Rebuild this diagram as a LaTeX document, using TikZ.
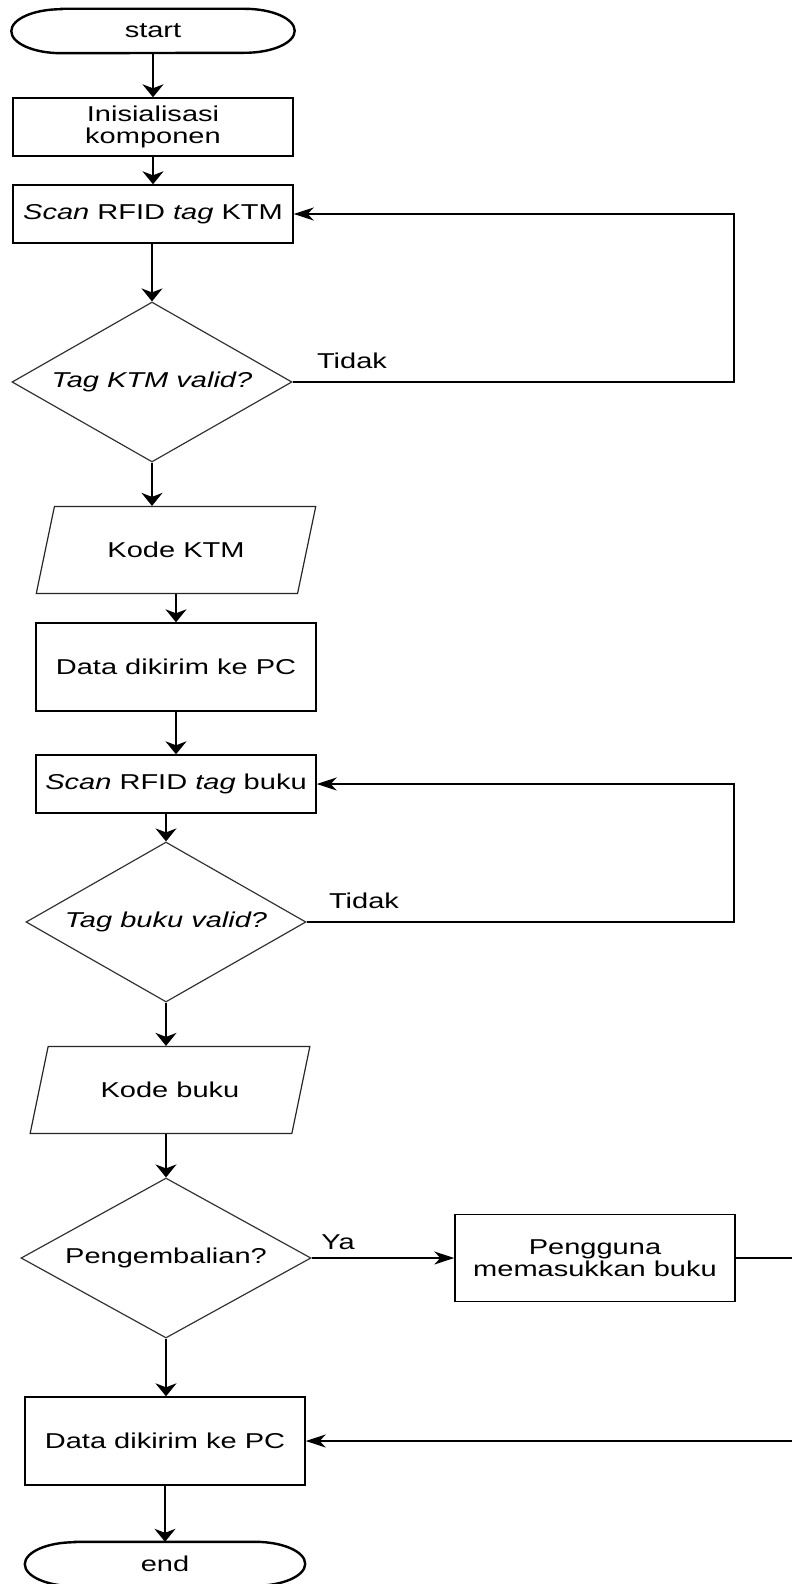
\documentclass[tikz,border=0pt]{standalone}
\usepackage{fontspec}
\setmainfont[FakeStretch=1.35]{Liberation Sans}
\usetikzlibrary{shapes.geometric,arrows.meta}

\tikzset{
    proses/.style={draw, line width=1.4pt, rectangle, minimum width=280pt, inner sep=0pt, align=center},
    keputusan/.style={draw=black!80, line width=1.2pt, diamond, aspect=1.75, minimum width=280pt, minimum height=160pt, inner sep=0pt},
    dataio/.style={draw=black!85, line width=1.2pt, trapezium, trapezium left angle=57, trapezium right angle=123, trapezium stretches=true, minimum width=280pt, minimum height=87pt, inner sep=0pt},
    terminal/.style={rectangle, minimum width=280pt, minimum height=44pt, inner sep=0pt},
    garis/.style={line width=1.5pt},
    panah/.style={garis, -{Stealth[length=13pt,width=21pt,inset=4pt]}},
    panahh/.style={garis, -{Stealth[length=20pt,width=13pt,inset=6pt]}},
    ket/.style={inner sep=0pt}
}

\begin{document}
\begin{tikzpicture}[x=1pt, y=-1pt, font=\fontsize{21.5}{22}\selectfont]

    \useasboundingbox (0,0) rectangle (792,1584);

    % Mulai dan akhir
    \node[terminal, minimum width=283pt] (start) at (153,31) {start};
    \node[terminal] (end) at (165,1564) {end};
    \foreach \t in {start,end}
        \draw[line width=2.4pt] ([xshift=50pt]\t.north west) -- ([xshift=-50pt]\t.north east)
            arc[start angle=90, end angle=-90, x radius=50pt, y radius=22pt]
            -- ([xshift=50pt]\t.south west)
            arc[start angle=270, end angle=90, x radius=50pt, y radius=22pt] -- cycle;

    % Bagian KTM
    \node[proses, minimum height=58pt] (init) at (153,127) {Inisialisasi\\komponen};
    \node[proses, minimum height=58pt] (scanktm) at (153,214) {\textit{Scan} RFID \textit{tag} KTM};
    \node[keputusan] (cekktm) at (152,382) {\textit{Tag KTM valid?}};
    \node[dataio] (kodektm) at (176,550) {Kode KTM};
    \node[proses, minimum height=88pt] (kirimktm) at (176,667) {Data dikirim ke PC};

    % Bagian buku
    \node[proses, minimum height=58pt] (scanbuku) at (176,784) {\textit{Scan} RFID \textit{tag} buku};
    \node[keputusan] (cekbuku) at (166,922) {\textit{Tag buku valid?}};
    \node[dataio] (kodebuku) at (170,1090) {Kode buku};
    \node[keputusan, minimum width=290pt] (kembali) at (166,1258) {Pengembalian?};
    \node[proses, minimum height=87pt] (pengguna) at (595,1258) {Pengguna\\memasukkan buku};
    \node[proses, minimum height=88pt] (kirimbuku) at (165,1441) {Data dikirim ke PC};

    % Titik di luar gambar
    \coordinate (luar1) at (806,1258);
    \coordinate (luar2) at (806,1441);

    % Alur utama
    \draw[panah] (start) -- (init);
    \draw[panah] (init) -- (scanktm);
    \draw[panah] (scanktm.south -| cekktm.north) -- (cekktm.north);
    \draw[panah] (cekktm.south) -- (cekktm.south |- kodektm.north);
    \draw[panah] (kodektm.south -| kirimktm.north) -- (kirimktm.north);
    \draw[panah] (kirimktm) -- (scanbuku);
    \draw[panah] (scanbuku.south -| cekbuku.north) -- (cekbuku.north);
    \draw[panah] (cekbuku.south) -- (cekbuku.south |- kodebuku.north);
    \draw[panah] (kodebuku.south -| kembali.north) -- (kembali.north);
    \draw[panah] (kembali.south) -- (kembali.south |- kirimbuku.north);
    \draw[panah] (kirimbuku.south -| end.north) -- (end.north);

    % Perulangan dan cabang
    \draw[panahh] (cekktm.east) -- (734,382) |- (scanktm.east);
    \draw[panahh] (cekbuku.east) -- (734,922) |- (scanbuku.east);
    \draw[panahh] (kembali.east) -- (pengguna.west);
    \draw[garis] (pengguna.east) -- (luar1) -- (luar2);
    \draw[panahh] (luar2) -- (kirimbuku.east);

    % Label cabang
    \node[ket] (tidak1) at (352,361) {Tidak};
    \node[ket] (tidak2) at (364,901) {Tidak};
    \node[ket] (ya) at (338,1242) {Ya};
\end{tikzpicture}
\end{document}
